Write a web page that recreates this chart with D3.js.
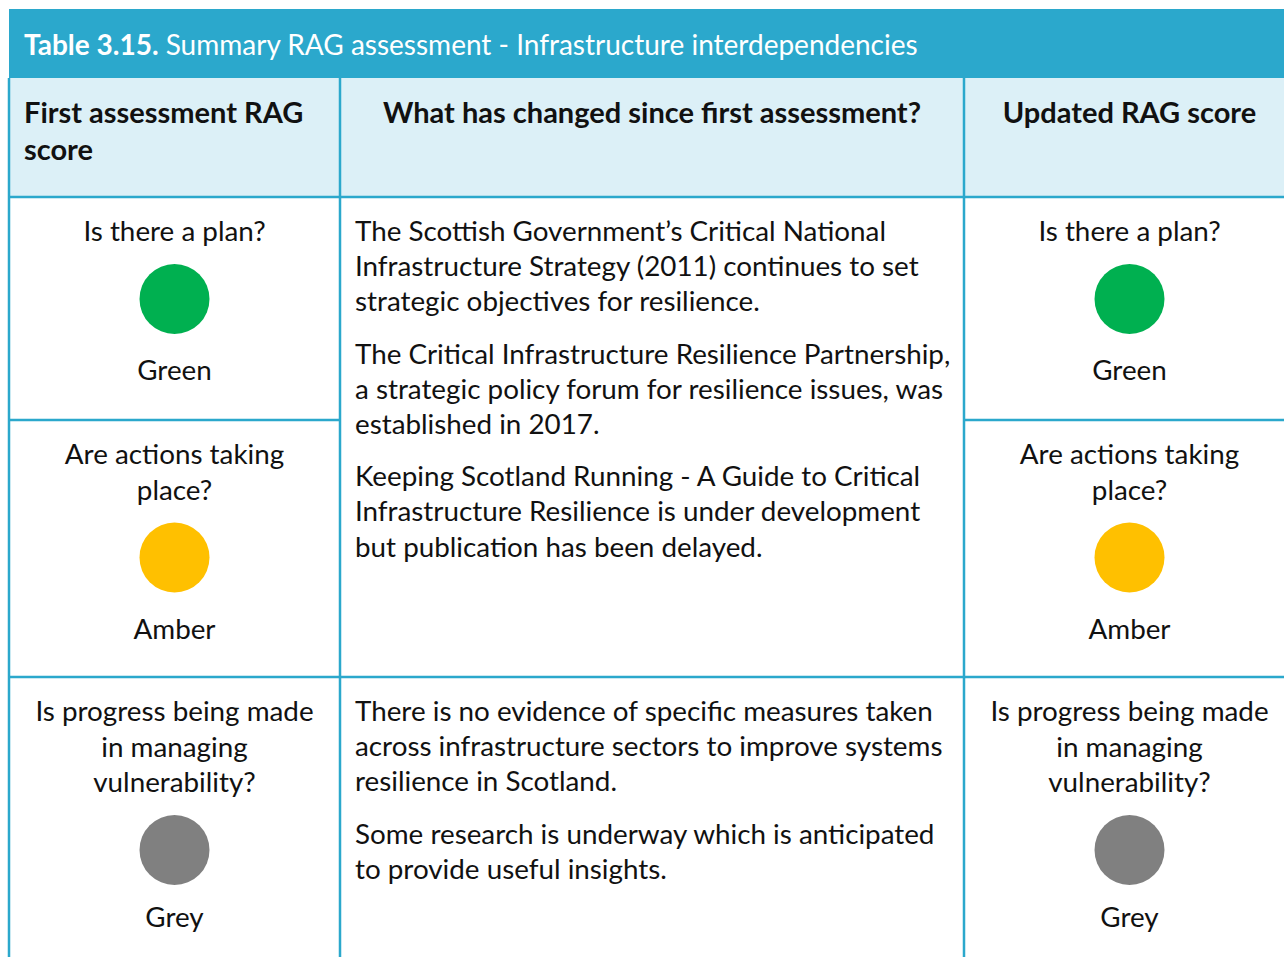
<!DOCTYPE html>
<html><head><meta charset="utf-8">
<script src="https://cdn.jsdelivr.net/npm/d3@7"></script>
<style>body{margin:0;background:#fff}svg{display:block}text{font-family:Lato,"Noto Sans",sans-serif}</style>
</head><body><svg id="c" width="1284" height="957"></svg>
<script>
const titleBold = "Table 3.15.";
const titleRest = " Summary RAG assessment - Infrastructure interdependencies";
const headers = [["First assessment RAG","score"],["What has changed since first assessment?"],["Updated RAG score"]];
const questions = [["Is there a plan?"],["Are actions taking","place?"],["Is progress being made","in managing","vulnerability?"]];
const firstScores = ["Green","Amber","Grey"];
const updatedScores = ["Green","Amber","Grey"];
const changes = [
  [["The Scottish Government\u2019s Critical National","Infrastructure Strategy (2011) continues to set","strategic objectives for resilience."],
   ["The Critical Infrastructure Resilience Partnership,","a strategic policy forum for resilience issues, was","established in 2017."],
   ["Keeping Scotland Running - A Guide to Critical","Infrastructure Resilience is under development","but publication has been delayed."]],
  [["There is no evidence of specific measures taken","across infrastructure sectors to improve systems","resilience in Scotland."],
   ["Some research is underway which is anticipated","to provide useful insights."]]
];
const ragNames = ["Green","Amber","Grey"];
const ragColors = ["#00b050","#ffc000","#808080"];

const svg = d3.select("#c");
const color = d3.scaleOrdinal(ragNames, ragColors);
const BLUE = "#2ba8cc";
const X0 = 9, X1 = 340, X2 = 964, X3 = 1295;
const Y0 = 9, Y1 = 78, Y2 = 197;
const rowTops = [197, 420, 677];
const labelOffsets = [81, 81, 77];
const BODY = 27.8, LH = 35.2;

// title bar
svg.append("rect").attr("x",X0).attr("y",Y0).attr("width",X3-X0).attr("height",Y1-Y0).attr("fill",BLUE);
const t = svg.append("text").attr("x",24).attr("y",55).attr("fill","#fff").style("font-size","28px");
t.append("tspan").attr("font-weight","bold").text(titleBold);
t.append("tspan").text(titleRest);

// header
svg.append("rect").attr("x",X0).attr("y",Y1).attr("width",X3-X0).attr("height",Y2-Y1).attr("fill","#dcf0f7");
const hx = [{x:24,a:"start"},{x:(X1+X2)/2,a:"middle"},{x:(X2+X3)/2,a:"middle"}];
headers.forEach((lines,i)=>{
  lines.forEach((l,j)=>{
    svg.append("text").attr("x",hx[i].x).attr("y",123+j*37).attr("text-anchor",hx[i].a)
      .attr("font-weight","bold").style("font-size","29px").attr("fill","#111").text(l);
  });
});

// rating cells
function ratingCell(cx, top, q, score, lo){
  q.forEach((l,j)=>{
    svg.append("text").attr("x",cx).attr("y",top+44+j*35.5).attr("text-anchor","middle")
      .style("font-size",BODY+"px").attr("fill","#111").text(l);
  });
  const n = q.length;
  const cy = top + 44 + (n-1)*35.5 + 58;
  svg.append("circle").attr("cx",cx).attr("cy",cy).attr("r",35).attr("fill",color(score));
  svg.append("text").attr("x",cx).attr("y",cy+lo).attr("text-anchor","middle")
    .style("font-size",BODY+"px").attr("fill","#111").text(score);
}
questions.forEach((q,i)=>{
  ratingCell((X0+X1)/2, rowTops[i], q, firstScores[i], labelOffsets[i]);
  ratingCell((X2+X3)/2, rowTops[i], q, updatedScores[i], labelOffsets[i]);
});

// changes column
const changeTops = [197, 677];
changes.forEach((paras,i)=>{
  let y = changeTops[i] + 44;
  paras.forEach(p=>{
    p.forEach(l=>{
      svg.append("text").attr("x",355).attr("y",y).style("font-size",BODY+"px").attr("fill","#111").text(l);
      y += LH;
    });
    y += 17;
  });
});

// grid lines
const g = svg.append("g").attr("stroke",BLUE).attr("stroke-width",2.5).attr("fill","none");
[[X0,Y1,X0,957],[X1,Y1,X1,957],[X2,Y1,X2,957],
 [X0,Y2,X3,Y2],[X0,420,X1,420],[X2,420,X3,420],[X0,677,X3,677]].forEach(d=>{
  g.append("line").attr("x1",d[0]).attr("y1",d[1]).attr("x2",d[2]).attr("y2",d[3]);
});
</script></body></html>
